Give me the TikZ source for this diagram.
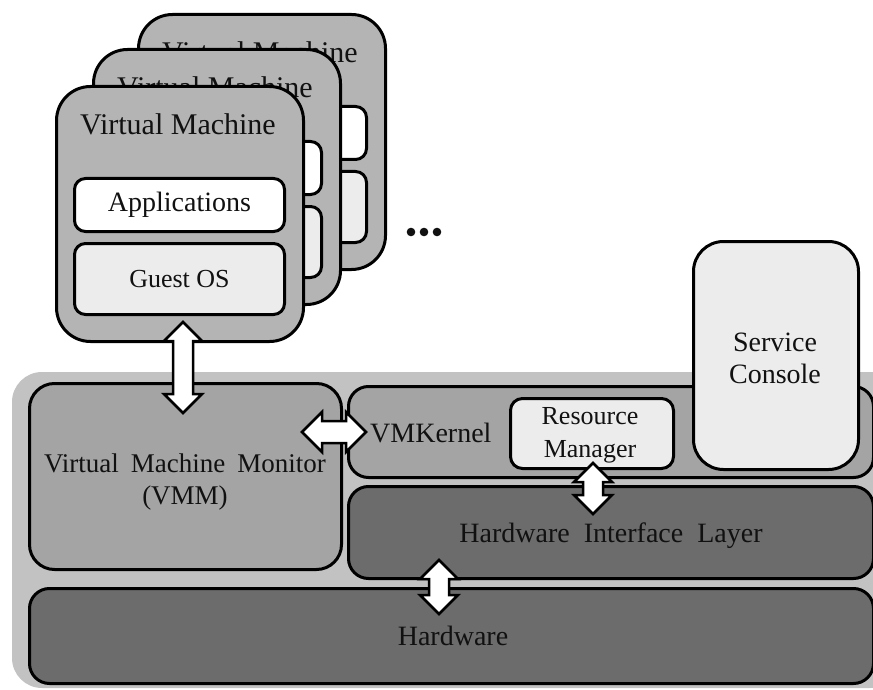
\documentclass[tikz,border=0pt]{standalone}
\usepackage{fontspec}
\setmainfont{Liberation Serif}
\usetikzlibrary{calc}

\definecolor{bgGray}{HTML}{C2C2C2}
\definecolor{vmGray}{HTML}{B4B4B4}
\definecolor{midGray}{HTML}{A4A4A4}
\definecolor{darkGray}{HTML}{6C6C6C}
\definecolor{paleGray}{HTML}{ECECEC}
\definecolor{ink}{HTML}{111111}

\tikzset{
  box/.style={draw=black, line width=3pt, inner sep=0pt, align=center,
    anchor=north west, text=ink},
  vmcard/.style={box, fill=vmGray, rounded corners=34pt,
    minimum width=247pt, minimum height=255pt},
  innerbox/.style={box, rounded corners=11pt, minimum width=210pt},
  fatarrow/.style={draw=black, fill=white, line width=2.5pt, line join=miter},
  lbl/.style={text=ink, align=center, inner sep=0pt},
}

% vertical double arrow from coordinate #1 (upper tip) to #2 (lower tip)
\newcommand\vfat[2]{%
  \draw[fatarrow] ($(#1)+(-19,19)$) -- (#1) -- ($(#1)+(19,19)$)
    -- ($(#1)+(10,19)$) -- ($(#2)+(10,-19)$) -- ($(#2)+(19,-19)$)
    -- (#2) -- ($(#2)+(-19,-19)$) -- ($(#2)+(-10,-19)$)
    -- ($(#1)+(-10,19)$) -- cycle;}
% horizontal double arrow from coordinate #1 (left tip) to #2 (right tip)
\newcommand\hfat[2]{%
  \draw[fatarrow] ($(#1)+(20,-20)$) -- (#1) -- ($(#1)+(20,20)$)
    -- ($(#1)+(20,11)$) -- ($(#2)+(-20,11)$) -- ($(#2)+(-20,20)$)
    -- (#2) -- ($(#2)+(-20,-20)$) -- ($(#2)+(-20,-11)$)
    -- ($(#1)+(20,-11)$) -- cycle;}

\begin{document}
\begin{tikzpicture}[x=1pt, y=-1pt]
\useasboundingbox (0,0) rectangle (873,690);
\clip (0,0) rectangle (873,690);

% ---- host platform ----
\fill[bgGray, rounded corners=30pt] (12,372) rectangle (900,688);

\node[box, fill=midGray, rounded corners=25pt,
      minimum width=312pt, minimum height=186pt] (vmm) at (28,382) {};
\node[lbl, font=\fontsize{27}{32}\selectfont] (vmmtext) at (185,482)
  {Virtual\hspace{12pt}Machine\hspace{12pt}Monitor\\(VMM)};

\node[box, fill=midGray, rounded corners=20pt,
      minimum width=525pt, minimum height=91pt] (vmk) at (347,385) {};
\node[lbl, font=\fontsize{28}{32}\selectfont, anchor=west] (vmktext) at (370,433) {VMKernel};

\node[box, fill=paleGray, rounded corners=12pt,
      minimum width=163pt, minimum height=70pt] (rm) at (509,397) {};
\node[lbl, font=\fontsize{26}{33}\selectfont] (rmtext) at (590,435) {Resource\\Manager};

\node[box, fill=paleGray, rounded corners=30pt,
      minimum width=165pt, minimum height=228pt] (sc) at (692,240) {};
\node[lbl, font=\fontsize{28}{32}\selectfont] (sctext) at (775,358) {Service\\Console};

\node[box, fill=darkGray, rounded corners=20pt,
      minimum width=525pt, minimum height=92pt] (hil) at (347,485) {};
\node[lbl, font=\fontsize{28}{32}\selectfont] (hiltext) at (611,536)
  {Hardware\hspace{14pt}Interface\hspace{14pt}Layer};

\node[box, fill=darkGray, rounded corners=20pt,
      minimum width=844pt, minimum height=95pt] (hw) at (28,587) {};
\node[lbl, font=\fontsize{28}{32}\selectfont] (hwtext) at (453,636) {Hardware};

% ---- stacked virtual machines (back to front) ----
\node[vmcard] (vm3) at (137,13) {};
\node[lbl, font=\fontsize{30}{32}\selectfont] (vm3t) at (260,52) {Virtual Machine};
\node[innerbox, fill=white, minimum height=53pt] (app3) at (155,105) {};
\node[innerbox, fill=paleGray, minimum height=71pt] (os3) at (155,170) {};

\node[vmcard] (vm2) at (92,48) {};
\node[lbl, font=\fontsize{30}{32}\selectfont] (vm2t) at (215,87) {Virtual Machine};
\node[innerbox, fill=white, minimum height=53pt] (app2) at (110,140) {};
\node[innerbox, fill=paleGray, minimum height=71pt] (os2) at (110,205) {};

\node[vmcard] (vm1) at (55,85) {};
\node[lbl, font=\fontsize{30}{32}\selectfont] (vm1t) at (178,124) {Virtual Machine};
\node[innerbox, fill=white, minimum height=53pt,
      font=\fontsize{28}{32}\selectfont] (app1) at (73,177) {Applications};
\node[innerbox, fill=paleGray, minimum height=71pt,
      font=\fontsize{26}{32}\selectfont] (os1) at (73,242) {Guest OS};

% more machines
\foreach \dx [count=\i] in {411,424,437}
  \fill[ink] (\dx,232) circle (4.3pt) coordinate (dot\i);

% ---- interaction arrows ----
\coordinate (a1top) at (183,322);
\coordinate (a1bot) at (183,413);
\vfat{a1top}{a1bot}

\coordinate (a2l) at (302,432);
\coordinate (a2r) at (366,432);
\hfat{a2l}{a2r}

\coordinate (a3top) at (593,463);
\coordinate (a3bot) at (593,514);
\vfat{a3top}{a3bot}

\coordinate (a4top) at (439,560);
\coordinate (a4bot) at (439,614);
\vfat{a4top}{a4bot}
\end{tikzpicture}
\end{document}
